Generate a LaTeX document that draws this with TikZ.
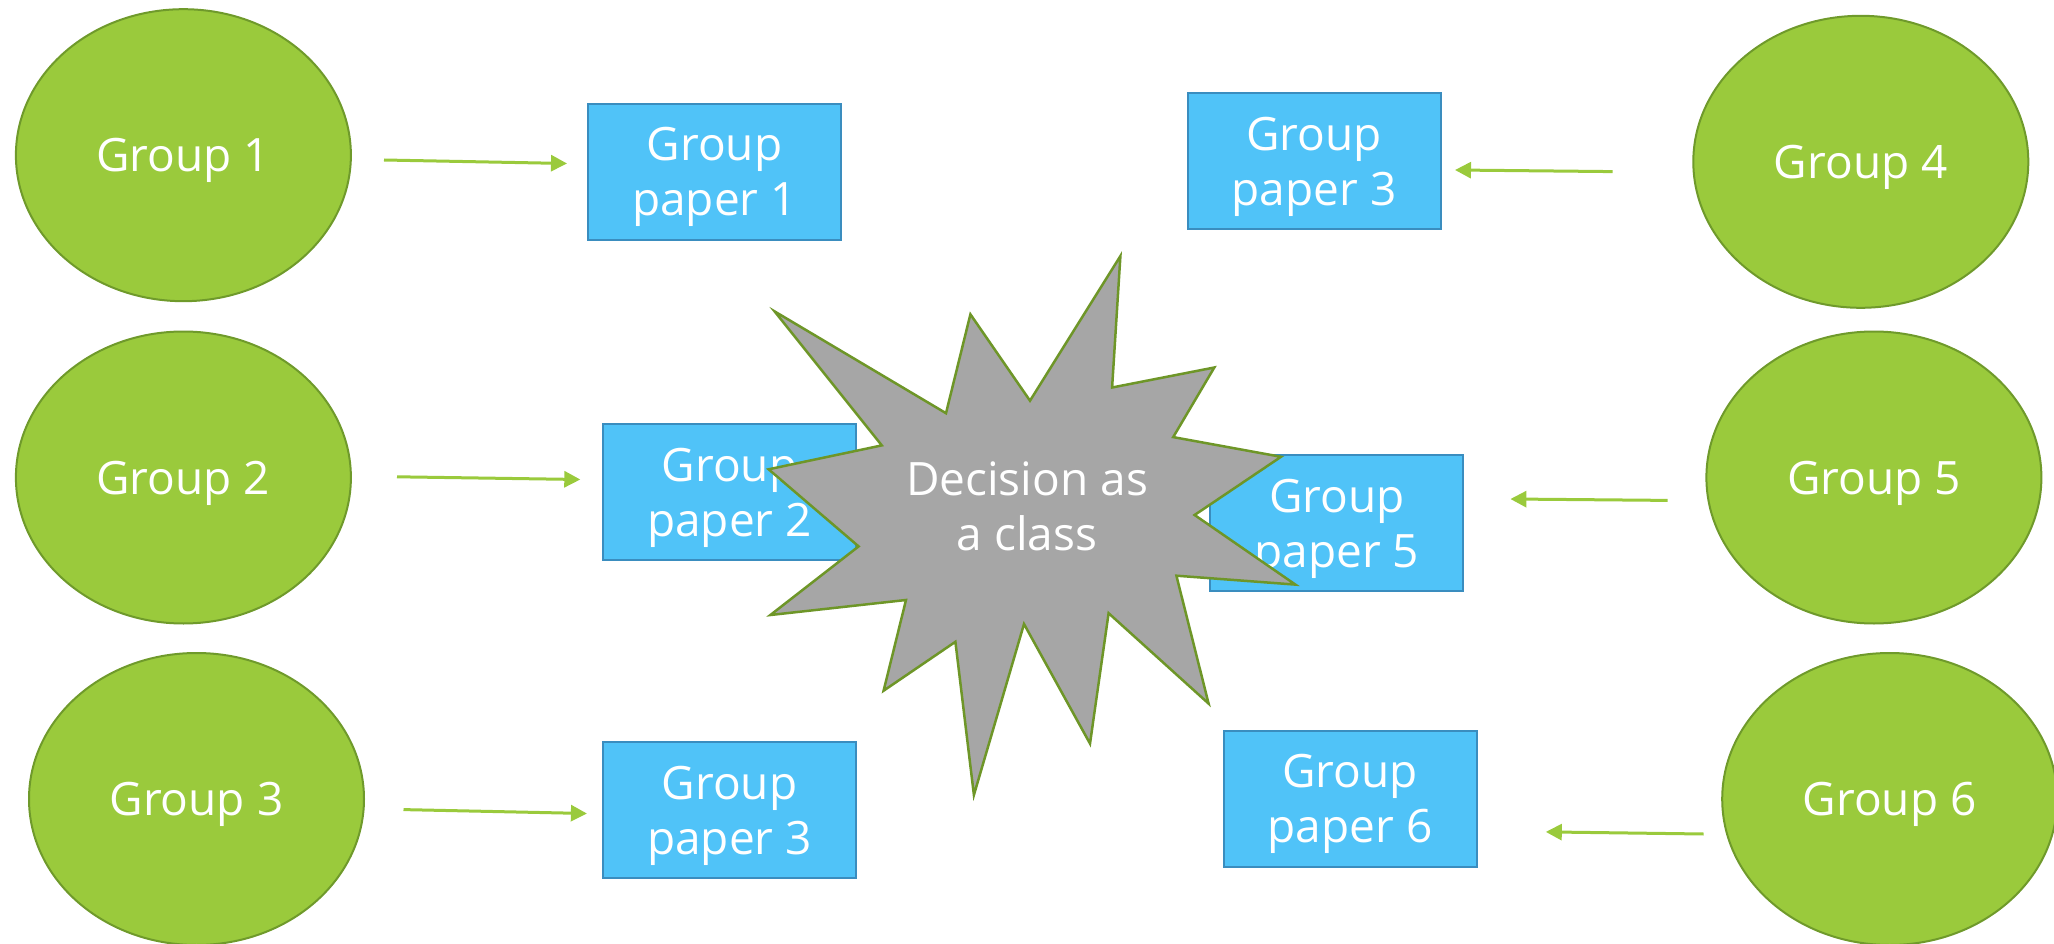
\documentclass[tikz,border=0pt]{standalone}
\usepackage{fontspec}
\setmainfont{Open Sans}
\usetikzlibrary{shapes.geometric,arrows.meta}
\definecolor{grpfill}{HTML}{9ACA3C}
\definecolor{grpline}{HTML}{6F9A2B}
\definecolor{boxfill}{HTML}{50C3F8}
\definecolor{boxline}{HTML}{3A8DBF}
\definecolor{starfill}{HTML}{A6A6A6}
\definecolor{starline}{HTML}{6E9628}
\tikzset{
  grp/.style={ellipse, draw=grpline, line width=2pt, fill=grpfill, minimum width=335pt, minimum height=292pt, inner sep=0pt, text=white, text depth=0pt, font=\fontsize{46}{55}\selectfont},
  paper/.style={rectangle, draw=boxline, line width=2pt, fill=boxfill, minimum width=253pt, minimum height=136pt, inner sep=0pt, text=white, align=center, text depth=0pt, font=\fontsize{46}{55}\selectfont},
  feed/.style={draw=grpfill, line width=3pt, -{Triangle[length=16pt,width=16pt]}},
  burst/.style={draw=starline, line width=2.5pt, fill=starfill, line join=miter},
}
\begin{document}
\begin{tikzpicture}[x=1pt,y=-1pt]
\useasboundingbox (0,0) rectangle (2054,944);
% groups
\node[grp] (g1) at (183.4,155.2) {Group 1};
\node[grp] (g2) at (183.4,477.5) {Group 2};
\node[grp] (g3) at (196.5,799) {Group 3};
\node[grp] (g4) at (1860.8,161.8) {Group 4};
\node[grp] (g5) at (1873.9,477.5) {Group 5};
\node[grp] (g6) at (1889.7,799) {Group 6};
% papers
\node[paper] (p1) at (714.5,171.6) {Group\\paper 1};
\node[paper] (p2) at (729.6,492) {Group\\paper 2};
\node[paper] (p3) at (729.6,810) {Group\\paper 3};
\node[paper] (p4) at (1314,161) {Group\\paper 3};
\node[paper] (p5) at (1336.8,523) {Group\\paper 5};
\node[paper] (p6) at (1350,798.5) {Group\\paper 6};
% arrow end points
\coordinate (a1s) at (384,160);   \coordinate (a1e) at (567,163.5);
\coordinate (a2s) at (397,476.8); \coordinate (a2e) at (580.3,479.5);
\coordinate (a3s) at (403.5,809.6); \coordinate (a3e) at (586.9,813.5);
\coordinate (a4s) at (1612.6,171.6); \coordinate (a4e) at (1455,170);
\coordinate (a5s) at (1667.6,500.4); \coordinate (a5e) at (1510.4,499);
\coordinate (a6s) at (1703.5,834); \coordinate (a6e) at (1545.8,831.9);
\draw[feed] (a1s) -- (a1e);
\draw[feed] (a2s) -- (a2e);
\draw[feed] (a3s) -- (a3e);
\draw[feed] (a4s) -- (a4e);
\draw[feed] (a5s) -- (a5e);
\draw[feed] (a6s) -- (a6e);
% star
\draw[burst] (774.6,311.4) -- (946,413.2) -- (970.4,314.3) -- (1030,400.7) -- (1120.4,256) -- (1112.1,387.5) -- (1214.3,367.5) -- (1173.2,437.1) -- (1281,456.8) -- (1194.6,515) -- (1295.4,584.6) -- (1176.4,575.7) -- (1208.6,703.6) -- (1108.6,613.2) -- (1090,743.6) -- (1024,624) -- (973.9,795) -- (955.4,641.8) -- (883.6,690.7) -- (906,600) -- (770.4,615) -- (858.6,546.4) -- (768.6,469.3) -- (881.8,445.4) -- cycle;
\node[text=white, align=center, text depth=0pt, font=\fontsize{46}{55}\selectfont, inner sep=0pt] (dec) at (1027,506) {Decision as\\a class};
\end{tikzpicture}
\end{document}
